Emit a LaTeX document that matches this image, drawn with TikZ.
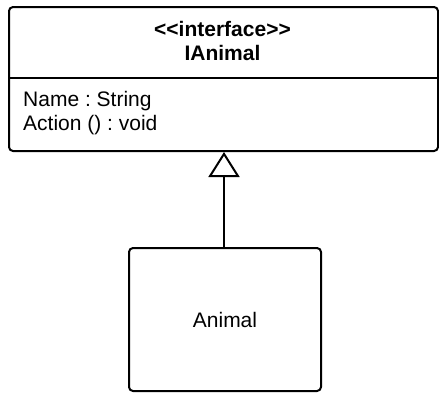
\documentclass[tikz,border=0pt]{standalone}
\usepackage{fontspec}
\setmainfont{Liberation Sans}
\usetikzlibrary{arrows.meta}
\frenchspacing
\begin{document}
\begin{tikzpicture}[x=1pt,y=1pt,
  umlbox/.style={draw=black, line width=2pt, rounded corners=4pt, anchor=north west, inner sep=0pt},
  txt/.style={font=\fontsize{21}{24}\selectfont\frenchspacing, inner sep=0pt},
  inherit/.style={line width=2pt, -{Triangle[open, width=31pt, length=25pt]}}]
\useasboundingbox (0,0) rectangle (439,-392);
\node[umlbox, minimum width=429pt, minimum height=144pt] (iface) at (8,-6) {};
\coordinate (divl) at (8,-78);
\coordinate (divr) at (437,-78);
\draw[line width=2pt] (divl) -- (divr);
\node[txt, font=\fontsize{21}{24}\selectfont\bfseries, align=center] (title) at (222.5,-41) {<\kern0pt<\kern0pt interface>\kern0pt>\\IAnimal};
\node[txt, anchor=base west] (attr) at (23,-106) {Name : String};
\node[txt, anchor=base west] (op) at (23,-130) {Action () : void};
\node[umlbox, minimum width=192pt, minimum height=143pt] (animal) at (128,-247) {};
\node[txt] (animallabel) at (animal.center) {Animal};
\draw[inherit] (animal.north -| 224,0) -- (iface.south -| 224,0);
\end{tikzpicture}
\end{document}
